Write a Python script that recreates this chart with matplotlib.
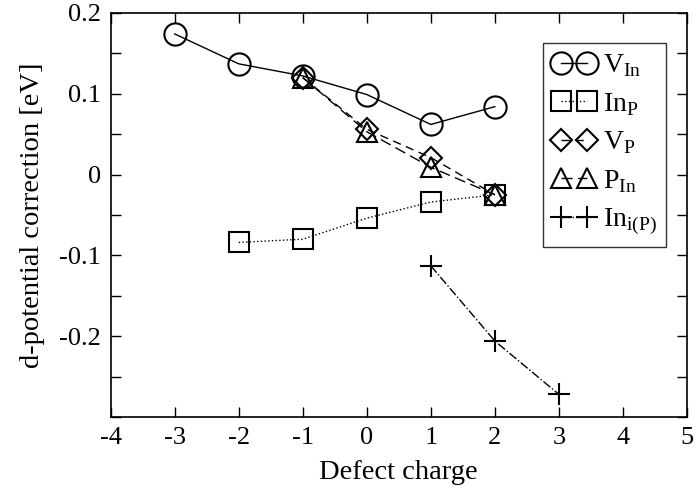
import matplotlib
matplotlib.use("Agg")
import matplotlib.pyplot as plt
from matplotlib.ticker import MultipleLocator

plt.rcParams['font.family'] = ['Liberation Serif', 'DejaVu Serif']
plt.rcParams['mathtext.fontset'] = 'custom'
plt.rcParams['mathtext.rm'] = 'Liberation Serif'

# Defect-charge dependent d-potential corrections
q_vin = [-3, -2, -1, 0, 1, 2]
v_in = [0.174, 0.137, 0.122, 0.099, 0.062, 0.084]

q_inp = [-2, -1, 0, 1, 2]
in_p = [-0.084, -0.080, -0.054, -0.034, -0.025]

q_vp = [-1, 0, 1, 2]
v_p = [0.120, 0.056, 0.021, -0.025]

q_pin = [-1, 0, 1, 2]
p_in = [0.120, 0.053, 0.009, -0.025]

q_ini = [1, 2, 3]
in_i = [-0.113, -0.206, -0.272]

labels = [r'V$_{\mathrm{In}}$', r'In$_{\mathrm{P}}$', r'V$_{\mathrm{P}}$',
          r'P$_{\mathrm{In}}$', r'In$_{\mathrm{i(P)}}$']

fig = plt.figure(figsize=(6.96, 4.97), dpi=100)
ax = fig.add_axes([0.159, 0.161, 0.828, 0.813])

kw = dict(color='black', markerfacecolor='none', markeredgecolor='black',
          markeredgewidth=1.5, linewidth=1.0)
ax.plot(q_vin, v_in, '-', marker='o', markersize=16, label=labels[0], **kw)
ax.plot(q_inp, in_p, ':', marker='s', markersize=14, label=labels[1], **kw)
ax.plot(q_vp, v_p, marker='D', markersize=11, linestyle=(0, (6, 4)), label=labels[2], **kw)
ax.plot(q_pin, p_in, marker='^', markersize=15, linestyle=(0, (8, 4)), label=labels[3], **kw)
ax.plot(q_ini, in_i, '-.', marker='+', markersize=16, label=labels[4], **kw)

ax.set_xlim(-4, 5)
ax.set_ylim(-0.3, 0.2)
ax.set_xticks(range(-4, 6))
ax.set_xticklabels([str(v) for v in range(-4, 6)])
ax.set_yticks([-0.2, -0.1, 0, 0.1, 0.2])
ax.set_yticklabels(['-0.2', '-0.1', '0', '0.1', '0.2'])
ax.yaxis.set_minor_locator(MultipleLocator(0.05))
ax.tick_params(which='both', direction='in', top=True, right=True, labelsize=19, pad=7)
ax.tick_params(which='major', length=7, width=1)
ax.tick_params(which='minor', length=7, width=1)
for s in ax.spines.values():
    s.set_linewidth(1.2)

ax.set_xlabel('Defect charge', fontsize=20.5, labelpad=8)
ax.set_ylabel('d-potential correction [eV]', fontsize=20.5, labelpad=10)

leg = ax.legend(loc='upper left', bbox_to_anchor=(0.75, 0.926), numpoints=2,
                fontsize=20, frameon=True, fancybox=False, edgecolor='black',
                handlelength=1.55, handletextpad=0.25, borderpad=0.35,
                labelspacing=0.42, borderaxespad=0.0)
leg.get_frame().set_linewidth(1.0)

fig.savefig('out.png', dpi=100)
